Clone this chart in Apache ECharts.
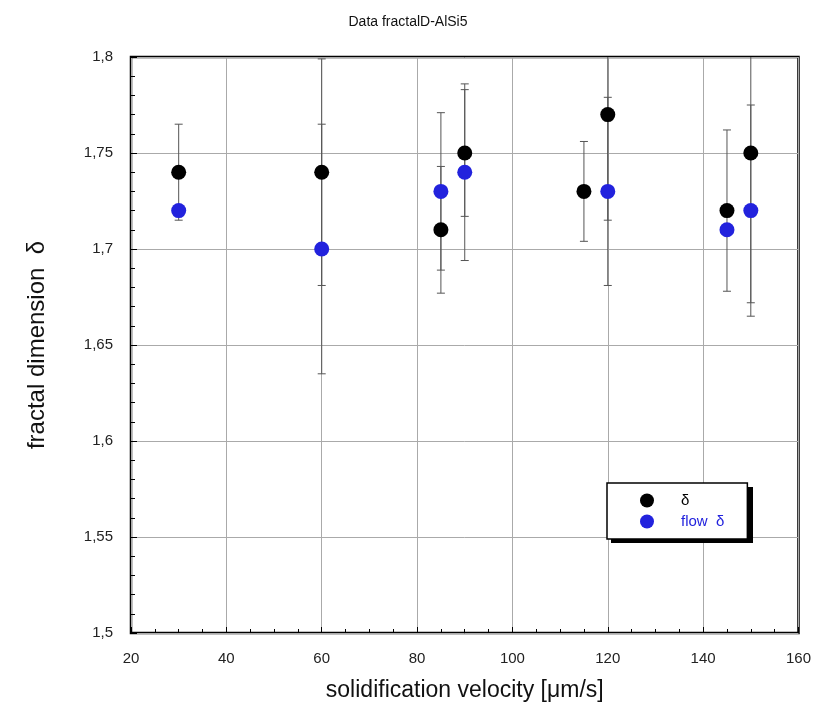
<!DOCTYPE html>
<html>
<head>
<meta charset="utf-8">
<script src="https://cdn.jsdelivr.net/npm/echarts@6/dist/echarts.min.js"></script>
<style>
  html, body { margin: 0; padding: 0; background: #fff; }
  #chart { width: 814px; height: 720px; }
</style>
</head>
<body>
<div id="chart"></div>
<script>
// Solidification velocity [µm/s] of each sample
const velocity = [30, 60, 85, 90, 115, 120, 145, 150];

// Fractal dimension δ with lower / upper error limits
const deltaValues = [1.74, 1.74, 1.71, 1.75, 1.73, 1.77, 1.72, 1.75];
const deltaLow    = [1.715, 1.681, 1.677, 1.717, 1.704, 1.715, 1.678, 1.672];
const deltaHigh   = [1.765, 1.799, 1.743, 1.783, 1.756, 1.825, 1.762, 1.828];

// Flow fractal dimension (null where no value)
const flowValues = [1.72, 1.70, 1.73, 1.74, null, 1.73, 1.71, 1.72];
const flowLow    = [null, 1.635, 1.689, 1.694, null, 1.681, null, 1.665];
const flowHigh   = [null, 1.765, 1.771, 1.786, null, 1.779, null, 1.775];

const xTicks = [20, 40, 60, 80, 100, 120, 140, 160];
const yTicks = [1.5, 1.55, 1.6, 1.65, 1.7, 1.75, 1.8];

const FONT = '"Liberation Sans", Arial, sans-serif';
const BLACK = '#000000';
const BLUE = '#2222dd';

function pairs(vals) {
  return velocity.map((v, i) => [v, vals[i]]).filter(p => p[1] != null);
}
function errRows(lo, hi) {
  return velocity.map((v, i) => [v, lo[i], hi[i]]).filter(r => r[1] != null);
}

// Vertical error bar with short caps
function errorBar(params, api) {
  const x = api.value(0);
  const p0 = api.coord([x, api.value(1)]);
  const p1 = api.coord([x, api.value(2)]);
  const cap = 4;
  const style = { stroke: '#555', lineWidth: 1 };
  return {
    type: 'group',
    children: [
      { type: 'line', shape: { x1: p0[0], y1: p0[1], x2: p1[0], y2: p1[1] }, style },
      { type: 'line', shape: { x1: p0[0] - cap, y1: p0[1], x2: p0[0] + cap, y2: p0[1] }, style },
      { type: 'line', shape: { x1: p1[0] - cap, y1: p1[1], x2: p1[0] + cap, y2: p1[1] }, style }
    ]
  };
}

const chart = echarts.init(document.getElementById('chart'));
chart.setOption({
  backgroundColor: '#fff',
  animation: false,
  title: {
    text: 'Data fractalD-AlSi5',
    left: 403, top: 10, textAlign: 'center',
    textStyle: { fontFamily: FONT, fontSize: 14, fontWeight: 'normal', color: '#111' }
  },
  grid: {
    left: 131, right: 15, top: 57, bottom: 87,
    show: true, borderColor: '#000', borderWidth: 2.5, backgroundColor: 'transparent'
  },
  // solid drop shadow behind the legend box
  graphic: [{
    type: 'rect', left: 611, top: 487, z: 3,
    shape: { width: 142, height: 56 },
    style: { fill: '#000' }
  }],
  legend: {
    orient: 'vertical',
    left: 607, top: 483, z: 10,
    padding: [10, 23, 10, 33],
    itemWidth: 14, itemHeight: 14, itemGap: 6,
    backgroundColor: '#fff',
    borderColor: '#000', borderWidth: 1.5, borderRadius: 0,
    textStyle: { fontFamily: FONT, fontSize: 15, padding: [0, 0, 0, 22] },
    data: [
      { name: 'δ', icon: 'circle', textStyle: { color: BLACK } },
      { name: 'flow  δ', icon: 'circle', textStyle: { color: BLUE } }
    ]
  },
  xAxis: {
    type: 'value', min: 20, max: 160, interval: 20,
    name: 'solidification velocity [μm/s]',
    nameLocation: 'middle', nameGap: 46,
    nameTextStyle: { fontFamily: FONT, fontSize: 23, color: '#111' },
    axisLine: { show: false },
    axisTick: { show: true, inside: true, length: 6, lineStyle: { color: '#000' } },
    minorTick: { show: true, splitNumber: 4, length: 4, lineStyle: { color: '#000' } },
    axisLabel: { margin: 18, fontFamily: FONT, fontSize: 15, color: '#222',
      formatter: v => xTicks.includes(v) ? String(v) : '' },
    splitLine: { show: true, lineStyle: { color: '#aaa', width: 1 } }
  },
  yAxis: {
    type: 'value', min: 1.5, max: 1.8, interval: 0.05,
    name: 'fractal dimension  δ',
    nameLocation: 'middle', nameGap: 82,
    nameTextStyle: { fontFamily: FONT, fontSize: 24, color: '#111' },
    axisLine: { show: false },
    axisTick: { show: true, inside: true, length: 6, lineStyle: { color: '#000' } },
    minorTick: { show: true, splitNumber: 5, length: 4, lineStyle: { color: '#000' } },
    axisLabel: { margin: 18, fontFamily: FONT, fontSize: 15, color: '#222',
      formatter: v => {
        const t = yTicks.find(k => Math.abs(k - v) < 1e-6);
        return t == null ? '' : String(t).replace('.', ',');
      } },
    splitLine: { show: true, lineStyle: { color: '#aaa', width: 1 } }
  },
  series: [
    {
      type: 'custom', name: 'δ-err', renderItem: errorBar, clip: true, z: 1,
      data: errRows(deltaLow, deltaHigh), silent: true
    },
    {
      type: 'custom', name: 'flow-err', renderItem: errorBar, clip: true, z: 1,
      data: errRows(flowLow, flowHigh), silent: true
    },
    {
      name: 'δ', type: 'scatter', symbol: 'circle', symbolSize: 15, z: 3,
      itemStyle: { color: BLACK, opacity: 1 },
      data: pairs(deltaValues)
    },
    {
      name: 'flow  δ', type: 'scatter', symbol: 'circle', symbolSize: 15, z: 4,
      itemStyle: { color: BLUE, opacity: 1 },
      data: pairs(flowValues)
    }
  ]
});
</script>
</body>
</html>
